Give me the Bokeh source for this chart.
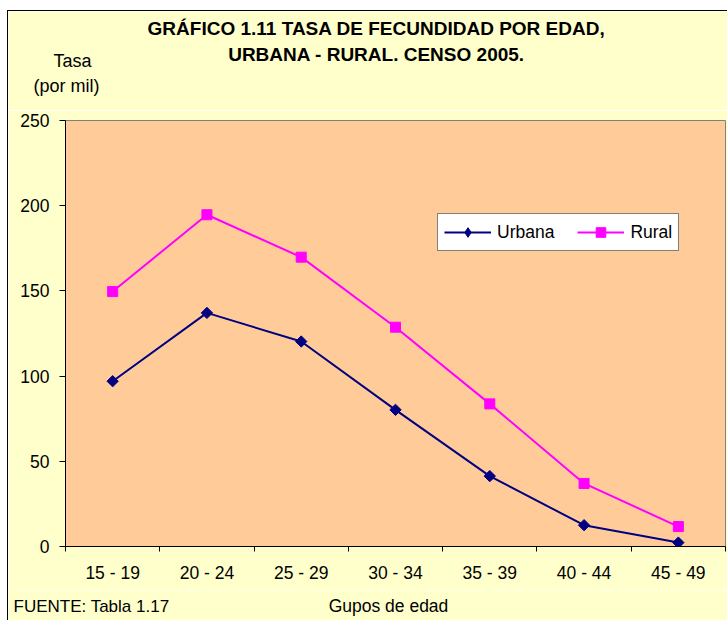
from bokeh.plotting import figure
from bokeh.models import Range1d, FixedTicker, Label, Legend, LegendItem
from bokeh.layouts import column
from bokeh.embed import file_html
from bokeh.resources import INLINE
import numpy as np

categories = ["15 - 19", "20 - 24", "25 - 29", "30 - 34", "35 - 39", "40 - 44", "45 - 49"]
urbana = [97.0, 137.1, 120.3, 80.2, 41.3, 12.5, 2.3]
rural = [149.6, 194.7, 169.8, 128.7, 83.7, 37.0, 11.7]
y_ticks = [0, 50, 100, 150, 200, 250]

title_lines = ["GRÁFICO 1.11 TASA DE FECUNDIDAD POR EDAD,", "URBANA - RURAL. CENSO 2005."]
y_title_lines = ["Tasa", "(por mil)"]
x_title = "Gupos de edad"
source_note = "FUENTE: Tabla 1.17"

FONT = "Liberation Sans"
FS = "17.5px"
BG = "#FFFFCC"
C_URB = "#000080"
C_RUR = "#FF00FF"

# page geometry: column placed at (8, 11) after margin + 1px border
OX, OY = 8, 11
W = 719
TOP_H = 99      # page y 11 .. 110
MAIN_H = 480    # page y 110 .. 590
BOT_H = 30      # page y 590 .. 620
ML, MR, MT, MB = 57, 2, 10, 44
BASE_FIX = 8    # measured offset of the rendered alphabetic baseline

n = len(categories)
xs = list(range(n))


def text_strip(h):
    f = figure(width=W, height=h, output_backend="svg", toolbar_location=None,
               x_range=Range1d(0, W), y_range=Range1d(h, 0),
               x_axis_type=None, y_axis_type=None, frame_align=False,
               min_border_left=0, min_border_right=0, min_border_top=0, min_border_bottom=0,
               border_fill_color=BG, background_fill_color=BG, outline_line_color=None)
    f.grid.visible = False
    return f


def add_text(f, y0, txt, px, py, align="center", size=FS, style="normal"):
    f.add_layout(Label(x=px - OX, y=py - y0 - BASE_FIX, text=txt, text_align=align,
                       text_baseline="alphabetic", text_font=FONT, text_font_size=size,
                       text_font_style=style, text_color="#000000"))


# --- top strip: title and y-axis caption
top = text_strip(TOP_H)
top_y0 = OY
for txt, base in zip(title_lines, [35.7, 61.7]):
    add_text(top, top_y0, txt, 376, base, size="19px", style="bold")
for txt, cx, base in zip(y_title_lines, [72, 66], [68, 93]):
    add_text(top, top_y0, txt, cx, base, size="18px")

# --- main chart
p = figure(width=W, height=MAIN_H, output_backend="svg", toolbar_location=None,
           x_range=Range1d(-0.5, n - 0.5), y_range=Range1d(0, 250), frame_align=False,
           min_border_left=ML, min_border_right=MR, min_border_top=MT, min_border_bottom=MB,
           border_fill_color=BG, background_fill_color="#FFCC99",
           outline_line_color="#808080", outline_line_width=1)
p.xgrid.visible = False
p.ygrid.visible = False

xa = p.xaxis[0]
xa.ticker = FixedTicker(ticks=xs, minor_ticks=[i - 0.5 for i in range(n + 1)])
xa.major_label_overrides = {i: c for i, c in zip(xs, categories)}
xa.major_tick_line_color = None
xa.major_tick_out = 0
xa.major_tick_in = 0
xa.minor_tick_out = 5
xa.minor_tick_in = 0
xa.minor_tick_line_color = "#000000"
xa.axis_line_color = "#000000"
xa.major_label_standoff = 11
xa.major_label_text_font = FONT
xa.major_label_text_font_size = FS
xa.major_label_text_color = "#000000"

ya = p.yaxis[0]
ya.ticker = FixedTicker(ticks=y_ticks)
ya.major_tick_out = 6
ya.major_tick_in = 0
ya.minor_tick_line_color = None
ya.axis_line_color = "#000000"
ya.major_tick_line_color = "#000000"
ya.major_label_standoff = 10
ya.major_label_text_font = FONT
ya.major_label_text_font_size = FS
ya.major_label_text_color = "#000000"

lu = p.line(xs, urbana, line_color=C_URB, line_width=2)
mu = p.scatter(xs, urbana, marker="square", angle=np.pi / 4, size=8,
               fill_color=C_URB, line_color=C_URB)
lr = p.line(xs, rural, line_color=C_RUR, line_width=2)
mr = p.scatter(xs, rural, marker="square", size=10,
               fill_color=C_RUR, line_color=C_RUR)
# legend-only diamond key (no data points of its own)
mu_key = p.scatter([np.nan], [np.nan], marker="diamond", size=12,
                   fill_color=C_URB, line_color=C_URB)

legend = Legend(items=[LegendItem(label="Urbana", renderers=[lu, mu_key]),
                       LegendItem(label="Rural", renderers=[lr, mr])],
                orientation="horizontal", location=(372, 295),
                padding=6, spacing=23, margin=0,
                glyph_width=47, glyph_height=24, label_standoff=6, label_height=24,
                label_text_font=FONT, label_text_font_size=FS, label_text_color="#000000",
                border_line_color="#000000", border_line_width=1,
                background_fill_color="#FFFFFF", background_fill_alpha=1.0)
p.add_layout(legend, "center")

# --- bottom strip: x-axis caption and source
bot = text_strip(BOT_H)
bot_y0 = OY + TOP_H + MAIN_H
add_text(bot, bot_y0, x_title, 388, 613)
add_text(bot, bot_y0, source_note, 13, 614, align="left", size="17px")

layout = column(top, p, bot, spacing=0)
layout.styles = {"margin-left": "7px", "margin-top": "10px",
                 "border-left": "1px solid #000000", "border-top": "1px solid #000000"}

open("out.html", "w").write(file_html(layout, INLINE))
